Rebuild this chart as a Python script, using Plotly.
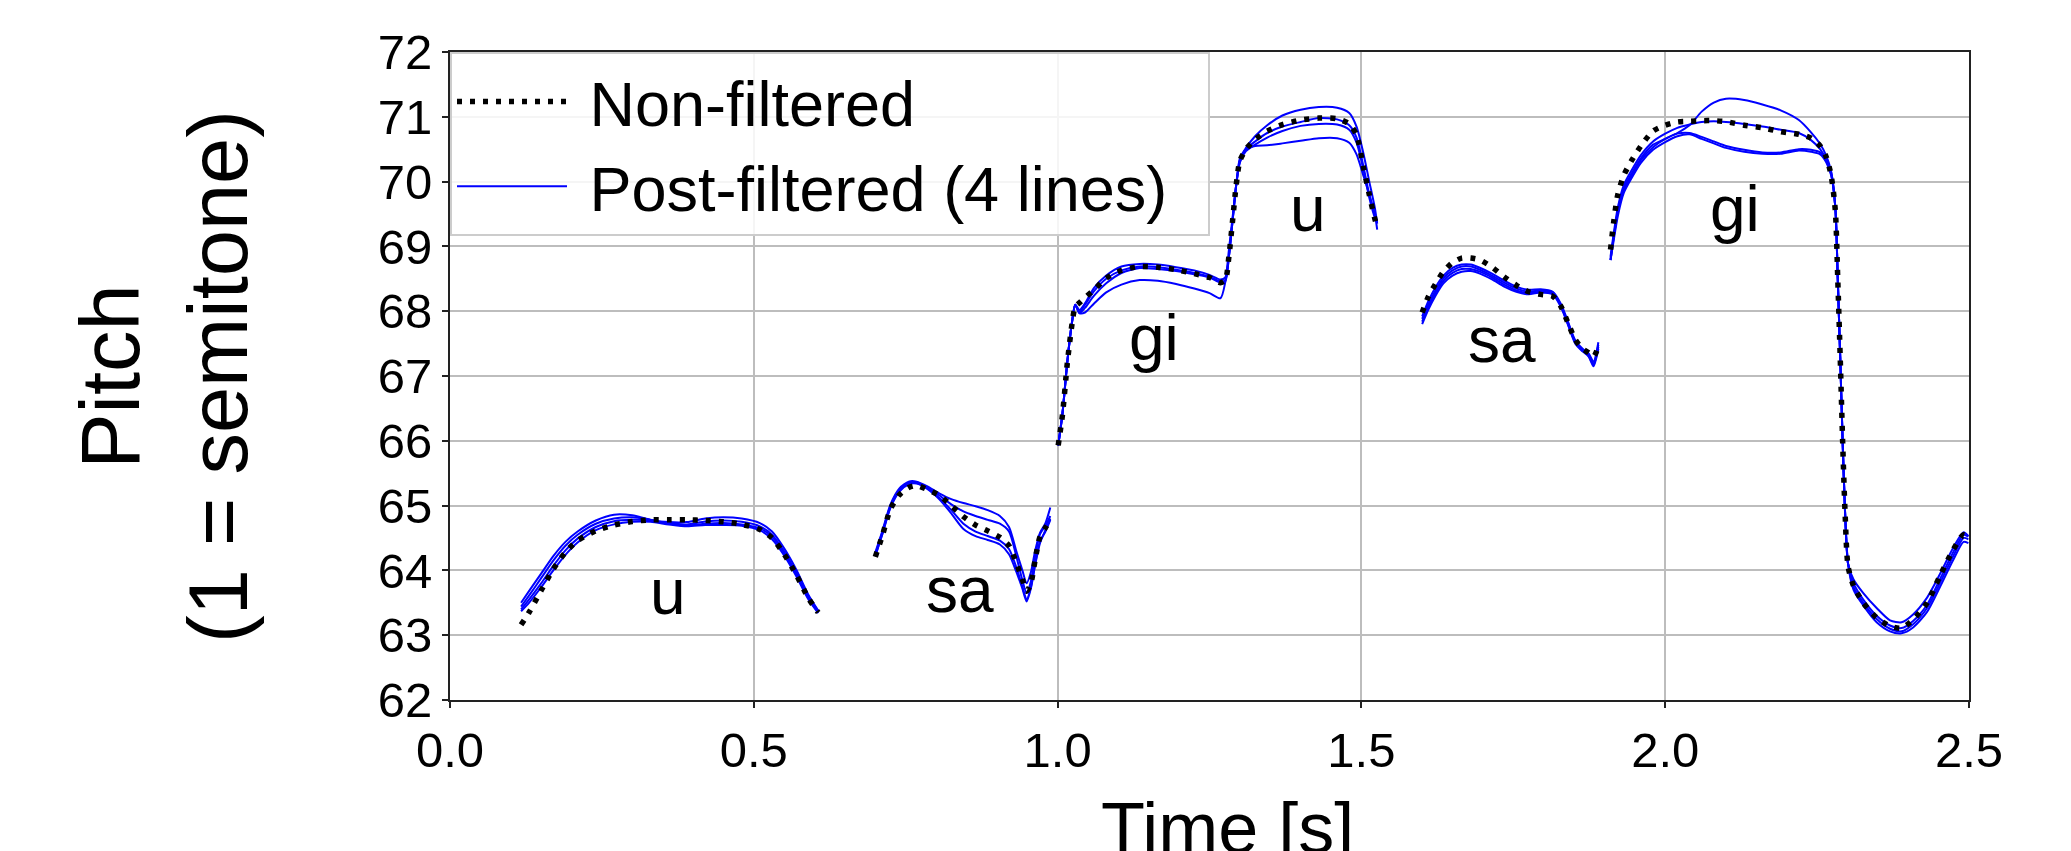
import plotly.graph_objects as go

# ---------------- data (time in s, pitch in semitones) ----------------
seg1_t = [0.117, 0.13, 0.15, 0.17, 0.19, 0.21, 0.24, 0.27, 0.30, 0.33, 0.36, 0.39, 0.42, 0.45, 0.48, 0.51, 0.53, 0.55, 0.57, 0.59, 0.606]
seg1_raw = [63.16, 63.35, 63.69, 64.02, 64.28, 64.46, 64.61, 64.70, 64.755, 64.78, 64.78, 64.78, 64.77, 64.75, 64.71, 64.63, 64.50, 64.25, 63.93, 63.57, 63.35]
seg1_pf_a = [63.50, 63.68, 63.95, 64.22, 64.44, 64.60, 64.77, 64.86, 64.85, 64.78, 64.745, 64.745, 64.80, 64.82, 64.80, 64.73, 64.60, 64.34, 64.01, 63.62, 63.38]
seg1_pf_b = [63.44, 63.61, 63.88, 64.15, 64.38, 64.55, 64.72, 64.80, 64.82, 64.78, 64.73, 64.71, 64.755, 64.77, 64.75, 64.68, 64.55, 64.29, 63.96, 63.60, 63.37]
seg1_pf_c = [63.40, 63.55, 63.80, 64.07, 64.31, 64.49, 64.67, 64.76, 64.78, 64.77, 64.72, 64.69, 64.72, 64.73, 64.71, 64.65, 64.52, 64.27, 63.94, 63.57, 63.35]
seg1_pf_d = [63.37, 63.50, 63.74, 64.00, 64.24, 64.43, 64.62, 64.71, 64.75, 64.75, 64.71, 64.68, 64.70, 64.70, 64.69, 64.62, 64.48, 64.23, 63.91, 63.55, 63.34]

seg2_t = [0.700, 0.712, 0.725, 0.740, 0.755, 0.768, 0.785, 0.805, 0.825, 0.845, 0.865, 0.885, 0.905, 0.920, 0.932, 0.942, 0.949, 0.956, 0.963, 0.971, 0.980, 0.988]
seg2_raw = [64.21, 64.55, 64.95, 65.17, 65.28, 65.31, 65.25, 65.16, 65.00, 64.83, 64.70, 64.61, 64.51, 64.38, 64.12, 63.86, 63.68, 63.80, 64.16, 64.52, 64.66, 64.78]
seg2_pf_a = [64.28, 64.62, 65.02, 65.27, 65.37, 65.37, 65.30, 65.19, 65.10, 65.04, 64.99, 64.93, 64.84, 64.67, 64.30, 64.00, 63.80, 63.97, 64.30, 64.58, 64.73, 64.97]
seg2_pf_b = [64.25, 64.60, 65.00, 65.25, 65.35, 65.36, 65.28, 65.16, 65.02, 64.91, 64.84, 64.78, 64.72, 64.60, 64.22, 63.85, 63.65, 63.83, 64.22, 64.56, 64.69, 64.84]
seg2_pf_c = [64.23, 64.58, 64.98, 65.23, 65.34, 65.35, 65.27, 65.12, 64.93, 64.72, 64.60, 64.53, 64.46, 64.33, 64.05, 63.75, 63.55, 63.74, 64.10, 64.45, 64.60, 64.78]
seg2_pf_d = [64.22, 64.57, 64.97, 65.22, 65.33, 65.34, 65.26, 65.10, 64.88, 64.64, 64.53, 64.47, 64.40, 64.25, 63.98, 63.72, 63.52, 63.72, 64.08, 64.42, 64.62, 64.80]

seg3_t = [1.001, 1.008, 1.016, 1.024, 1.029, 1.036, 1.045, 1.06, 1.08, 1.105, 1.135, 1.165, 1.195, 1.225, 1.25, 1.268, 1.276, 1.282, 1.288, 1.294, 1.300, 1.310, 1.325, 1.345, 1.37, 1.40, 1.43, 1.46, 1.48, 1.492, 1.503, 1.513, 1.522, 1.526]
seg3_raw = [65.93, 66.40, 67.20, 67.82, 68.07, 68.13, 68.21, 68.33, 68.51, 68.63, 68.69, 68.68, 68.64, 68.58, 68.52, 68.44, 68.48, 68.85, 69.40, 69.95, 70.32, 70.50, 70.65, 70.78, 70.88, 70.95, 70.98, 70.97, 70.89, 70.72, 70.24, 69.80, 69.43, 69.30]
seg3_pf_a = [65.93, 66.42, 67.22, 67.85, 68.10, 68.02, 68.12, 68.36, 68.55, 68.69, 68.73, 68.72, 68.68, 68.63, 68.56, 68.49, 68.52, 68.85, 69.40, 69.95, 70.36, 70.52, 70.70, 70.87, 71.02, 71.11, 71.15, 71.14, 71.06, 70.85, 70.45, 70.00, 69.60, 69.35]
seg3_pf_b = [65.93, 66.42, 67.22, 67.85, 68.10, 67.99, 68.10, 68.31, 68.50, 68.63, 68.69, 68.68, 68.64, 68.59, 68.53, 68.46, 68.48, 68.85, 69.40, 69.95, 70.33, 70.50, 70.62, 70.75, 70.85, 70.92, 70.98, 70.96, 70.87, 70.68, 70.25, 69.80, 69.48, 69.38]
seg3_pf_c = [65.93, 66.42, 67.22, 67.85, 68.10, 67.97, 68.05, 68.24, 68.43, 68.59, 68.665, 68.65, 68.62, 68.57, 68.52, 68.44, 68.46, 68.85, 69.40, 69.95, 70.30, 70.47, 70.57, 70.68, 70.78, 70.86, 70.89, 70.88, 70.80, 70.60, 70.20, 69.75, 69.45, 69.39]
seg3_pf_d = [65.93, 66.42, 67.22, 67.85, 68.10, 67.97, 67.98, 68.12, 68.29, 68.41, 68.48, 68.47, 68.42, 68.35, 68.28, 68.20, 68.45, 68.95, 69.45, 69.95, 70.30, 70.50, 70.55, 70.56, 70.59, 70.63, 70.67, 70.67, 70.60, 70.42, 70.10, 69.80, 69.50, 69.26]

seg4_t = [1.600, 1.610, 1.622, 1.635, 1.650, 1.665, 1.680, 1.695, 1.715, 1.735, 1.755, 1.775, 1.795, 1.815, 1.828, 1.840, 1.852, 1.864, 1.874, 1.882, 1.890]
seg4_raw = [67.98, 68.22, 68.42, 68.61, 68.75, 68.82, 68.82, 68.79, 68.68, 68.53, 68.40, 68.30, 68.26, 68.23, 68.08, 67.82, 67.56, 67.42, 67.36, 67.30, 67.45]
seg4_pf_a = [67.92, 68.15, 68.37, 68.55, 68.67, 68.72, 68.72, 68.67, 68.58, 68.47, 68.38, 68.33, 68.34, 68.30, 68.12, 67.84, 67.55, 67.42, 67.35, 67.22, 67.52]
seg4_pf_b = [67.88, 68.10, 68.32, 68.51, 68.63, 68.69, 68.69, 68.64, 68.55, 68.44, 68.35, 68.30, 68.32, 68.29, 68.10, 67.82, 67.53, 67.40, 67.32, 67.19, 67.48]
seg4_pf_c = [67.84, 68.06, 68.28, 68.47, 68.59, 68.65, 68.65, 68.61, 68.52, 68.41, 68.32, 68.28, 68.30, 68.27, 68.09, 67.80, 67.52, 67.39, 67.31, 67.17, 67.45]
seg4_pf_d = [67.80, 68.02, 68.24, 68.43, 68.55, 68.61, 68.62, 68.58, 68.49, 68.38, 68.30, 68.26, 68.29, 68.26, 68.07, 67.79, 67.50, 67.38, 67.30, 67.15, 67.42]

seg5_t = [1.910, 1.915, 1.922, 1.932, 1.945, 1.96, 1.98, 2.00, 2.02, 2.04, 2.06, 2.08, 2.10, 2.13, 2.16, 2.19, 2.22, 2.24, 2.255, 2.265, 2.273, 2.280, 2.284, 2.288, 2.292, 2.296, 2.301, 2.310, 2.326, 2.348, 2.370, 2.389, 2.408, 2.431, 2.452, 2.474, 2.491, 2.499]
seg5_raw = [68.95, 69.36, 69.80, 70.10, 70.33, 70.55, 70.78, 70.87, 70.92, 70.93, 70.94, 70.94, 70.925, 70.87, 70.83, 70.77, 70.73, 70.67, 70.55, 70.38, 70.10, 69.55, 68.50, 67.30, 66.00, 64.90, 64.06, 63.76, 63.50, 63.27, 63.14, 63.11, 63.24, 63.50, 63.91, 64.32, 64.55, 64.50]
seg5_pf_a = [68.79, 69.13, 69.55, 69.90, 70.13, 70.36, 70.57, 70.66, 70.75, 70.87, 71.08, 71.22, 71.28, 71.26, 71.19, 71.10, 70.95, 70.76, 70.58, 70.40, 70.16, 69.60, 68.50, 67.30, 66.00, 64.90, 64.10, 63.86, 63.65, 63.42, 63.23, 63.20, 63.32, 63.58, 63.94, 64.35, 64.59, 64.53]
seg5_pf_b = [68.84, 69.18, 69.60, 69.95, 70.18, 70.41, 70.62, 70.74, 70.83, 70.88, 70.92, 70.93, 70.92, 70.89, 70.85, 70.80, 70.75, 70.64, 70.50, 70.34, 70.15, 69.60, 68.50, 67.30, 66.00, 64.90, 64.10, 63.80, 63.55, 63.30, 63.15, 63.11, 63.22, 63.47, 63.86, 64.28, 64.55, 64.52]
seg5_pf_c = [68.79, 69.12, 69.52, 69.87, 70.10, 70.33, 70.53, 70.66, 70.74, 70.75, 70.69, 70.62, 70.55, 70.49, 70.45, 70.45, 70.50, 70.49, 70.45, 70.32, 70.12, 69.60, 68.50, 67.30, 66.00, 64.90, 64.10, 63.74, 63.50, 63.25, 63.10, 63.06, 63.17, 63.42, 63.80, 64.22, 64.50, 64.48]
seg5_pf_d = [68.79, 69.08, 69.47, 69.83, 70.06, 70.29, 70.49, 70.61, 70.70, 70.73, 70.66, 70.59, 70.52, 70.46, 70.43, 70.43, 70.48, 70.46, 70.42, 70.30, 70.10, 69.60, 68.50, 67.30, 66.00, 64.90, 64.10, 63.70, 63.46, 63.20, 63.06, 63.03, 63.12, 63.36, 63.74, 64.16, 64.44, 64.42]

syllable_labels = ["u", "sa", "gi", "u", "sa", "gi"]
syllable_t = [0.359, 0.839, 1.158, 1.412, 1.731, 2.115]
syllable_pitch = [63.66, 63.69, 67.59, 69.57, 67.56, 69.57]

x_tick_vals = [0.0, 0.5, 1.0, 1.5, 2.0, 2.5]
x_tick_text = ["0.0", "0.5", "1.0", "1.5", "2.0", "2.5"]
y_tick_vals = [62, 63, 64, 65, 66, 67, 68, 69, 70, 71, 72]


def join(*segs):
    out = []
    for s in segs:
        out += list(s) + [None]
    return out[:-1]


t_all = join(seg1_t, seg2_t, seg3_t, seg4_t, seg5_t)
raw_all = join(seg1_raw, seg2_raw, seg3_raw, seg4_raw, seg5_raw)
pf_all = [
    join(seg1_pf_a, seg2_pf_a, seg3_pf_a, seg4_pf_a, seg5_pf_a),
    join(seg1_pf_b, seg2_pf_b, seg3_pf_b, seg4_pf_b, seg5_pf_b),
    join(seg1_pf_c, seg2_pf_c, seg3_pf_c, seg4_pf_c, seg5_pf_c),
    join(seg1_pf_d, seg2_pf_d, seg3_pf_d, seg4_pf_d, seg5_pf_d),
]

FONT = "Liberation Sans, Arial, sans-serif"
NB = "\u00a0"

fig = go.Figure()
for i, ys in enumerate(pf_all):
    fig.add_trace(go.Scatter(
        x=t_all, y=ys, mode="lines", name=NB + "Post-filtered (4 lines)" + NB * 2,
        legendgroup="pf", showlegend=(i == 0), legendrank=2,
        line=dict(color="#0000ff", width=2, shape="spline", smoothing=0.7),
        connectgaps=False, hoverinfo="skip"))
fig.add_trace(go.Scatter(
    x=t_all, y=raw_all, mode="lines", name=NB + "Non-filtered", legendrank=1,
    line=dict(color="black", width=5.5, dash="5px,8px", shape="spline", smoothing=0.7),
    connectgaps=False, hoverinfo="skip"))

annotations = []
for lab, tx, py in zip(syllable_labels, syllable_t, syllable_pitch):
    annotations.append(dict(x=tx, y=py, xref="x", yref="y", text=lab, showarrow=False,
                            xanchor="center", yanchor="middle",
                            font=dict(family=FONT, size=64, color="black")))
annotations.append(dict(x=-0.1883, y=0.5, xref="paper", yref="paper",
                        text="Pitch<br>(1 = semitone)", textangle=-90, showarrow=False,
                        xanchor="center", yanchor="middle",
                        font=dict(family=FONT, size=83, color="black")))
annotations.append(dict(x=0.512, y=-0.1975, xref="paper", yref="paper",
                        text="Time [s]", showarrow=False,
                        xanchor="center", yanchor="middle",
                        font=dict(family=FONT, size=72, color="black")))

axis_common = dict(showgrid=True, gridcolor="#bdbdbd", gridwidth=2,
                   showline=True, linecolor="#222222", linewidth=2, mirror=True,
                   ticks="outside", ticklen=6, tickwidth=2, tickcolor="#222222",
                   zeroline=False,
                   tickfont=dict(family=FONT, size=49, color="black"))

# the page body has an 8px default margin, so the figure is 8px smaller
fig.update_layout(
    width=2063, height=843,
    margin=dict(l=442, r=102, t=44, b=151, pad=0),
    plot_bgcolor="white", paper_bgcolor="white",
    font=dict(family=FONT, color="black"),
    xaxis=dict(range=[0, 2.5], tickvals=x_tick_vals, ticktext=x_tick_text, **axis_common),
    yaxis=dict(range=[62, 72], tickvals=y_tick_vals, **axis_common),
    legend=dict(x=0, y=1, xanchor="left", yanchor="top",
                bgcolor="rgba(255,255,255,0.85)", bordercolor="#cccccc", borderwidth=2,
                font=dict(family=FONT, size=63, color="black"),
                itemwidth=110, tracegroupgap=0),
    annotations=annotations,
    showlegend=True,
)

fig.write_html("out.html")
